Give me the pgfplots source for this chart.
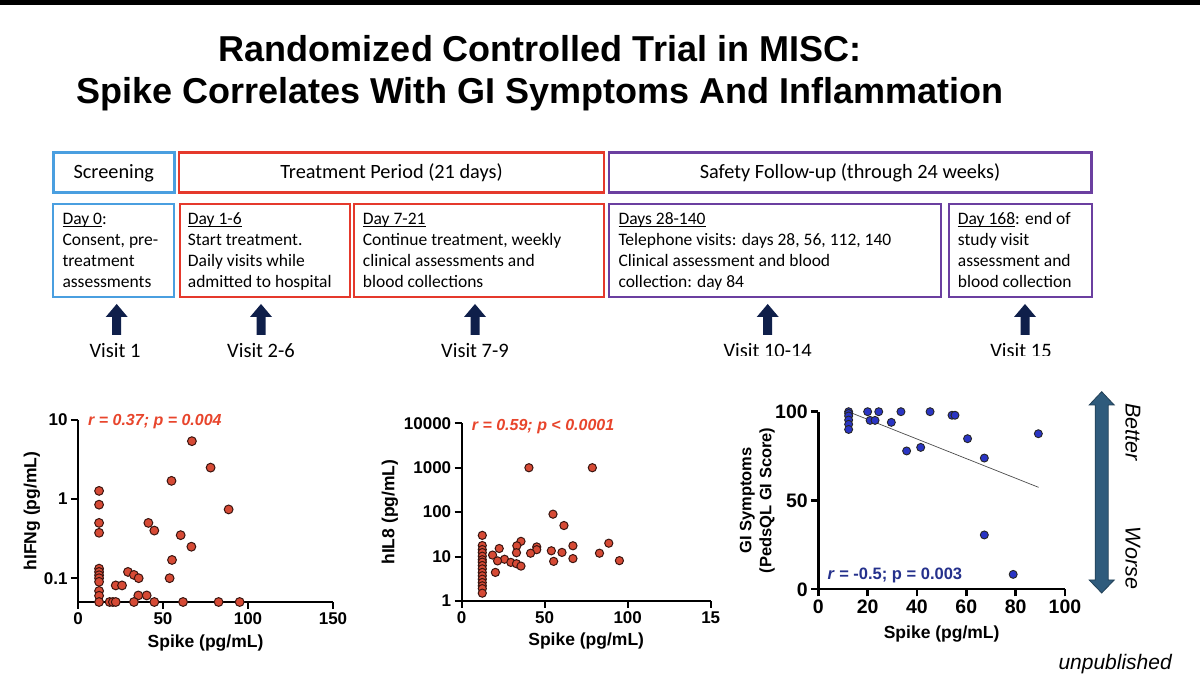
\documentclass[border=0pt]{standalone}
\usepackage{fontspec}
\setmainfont{Liberation Sans}
\newfontfamily\calib{Carlito}
\usepackage{pgfplots}
\usepackage{pgfplotstable}
\pgfplotsset{compat=1.18}

\definecolor{boxblue}{HTML}{4A9FE0}
\definecolor{boxred}{HTML}{E5392C}
\definecolor{boxpurple}{HTML}{6B3FA0}
\definecolor{navyarrow}{HTML}{0F1F4A}
\definecolor{dotred}{HTML}{D64A35}
\definecolor{dotedge}{HTML}{3A1510}
\definecolor{dotblue}{HTML}{2A35C4}
\definecolor{annred}{HTML}{E8452C}
\definecolor{annnavy}{HTML}{25318C}
\definecolor{steel}{HTML}{2F5B7C}

\newcommand\fs[1]{\fontsize{#1}{#1}\selectfont}
\newcommand\ul[1]{\setbox0\hbox{#1}\rlap{\rule[-2.2pt]{\wd0}{1pt}}\box0}

% hIFNg vs spike
\pgfplotstableread{
x y
67 5.4
78 2.5
55 1.7
88.6 0.74
12.4 1.27
12.4 0.85
12.4 0.50
12.4 0.375
41.4 0.50
44.9 0.40
60.4 0.35
66.7 0.25
55.3 0.17
53.9 0.10
29.4 0.12
32.9 0.11
35.7 0.10
22.2 0.081
25.9 0.081
35.5 0.0605
40.4 0.0605
12.4 0.132
12.4 0.12
12.4 0.109
12.4 0.10
12.4 0.09
12.4 0.069
12.4 0.060
12.4 0.05
18.6 0.05
20.5 0.05
22.2 0.05
32.9 0.05
44.9 0.05
61.8 0.05
82.7 0.05
95.1 0.05
}\ifng

% hIL8 vs spike
\pgfplotstableread{
x y
40.5 1000
78.7 1000
55 90
61.6 50
12.4 30
35.7 22
33.2 17.5
22.6 15.2
88.6 20
67 17.5
45.2 16.5
45.2 14.3
54 13.5
60.4 12.4
41.5 11.9
33 12.2
83 11.9
18.6 10.8
25.8 8.7
21.6 8.0
29.6 7.4
33 6.9
35.7 6.1
55.4 7.8
67 9.0
95 8.1
20.3 4.4
12.4 17.7
12.4 14.4
12.4 12.3
12.4 10.2
12.4 8.5
12.4 7.5
12.4 6.3
12.4 5.3
12.4 4.4
12.4 3.7
12.4 3.1
12.4 2.6
12.4 2.2
12.4 1.9
12.4 1.5
}\ileight

% GI score vs spike
\pgfplotstableread{
x y
12.3 100
12.3 99
12.3 97.6
12.3 95.3
12.3 92.9
12.3 90
20 100
24.5 100
21 95.1
23 95.1
29.6 94
33.5 100
45.3 100
54.2 98
55.4 98
60.5 84.8
89.2 87.6
35.8 77.9
41.5 79.9
67.3 73.9
67.3 30.6
79 8.4
}\gisc

\pgfplotsset{
  prism/.style={
    scale only axis,
    axis x line*=bottom, axis y line*=left,
    axis line style={line width=2pt},
    tick style={line width=2pt, black},
    major tick length=7pt,
    tick align=outside,
    xminorticks=false, yminorticks=false,
    /pgf/number format/assume math mode=true,
    tick label style={font=\bfseries\fs{17}},
    label style={font=\bfseries\fs{17.5}},
    clip=false,
  },
  reddots/.style={only marks, mark=*, mark size=4.4pt,
    mark options={fill=dotred, draw=dotedge, line width=1pt}},
}

\newcommand\uparr[1]{\fill[navyarrow] (#1-4.5,335) -- (#1-4.5,317) -- (#1-11,317)
  -- (#1,304) -- (#1+11,317) -- (#1+4.5,317) -- (#1+4.5,335) -- cycle;}
\newcommand\rowtext[5]{%
  \node[anchor=base west] at (#1,225) {#2};
  \node[anchor=base west] at (#1,245.7) {#3};
  \node[anchor=base west] at (#1,266.4) {#4};
  \node[anchor=base west] at (#1,287.1) {#5};}

\begin{document}
\begin{tikzpicture}
\path[use as bounding box, fill=white] (0,0) rectangle (1200pt,687pt);
\begin{scope}[x=1pt, y=-1pt, shift={(0pt,687pt)}, every node/.style={inner sep=0pt}]
  \fill[black] (0,0) rectangle (1200,5);
  % title
  \node[anchor=base] at (540,61.7) {\bfseries\fs{36}Randomized Controlled Trial in MISC:};
  \node[anchor=base] at (540,104) {\bfseries\fs{36}Spike Correlates With GI Symptoms And Inflammation};
  % phase boxes
  \draw[boxblue, line width=2.8pt] (53.3,152.3) rectangle (174.3,192.3);
  \draw[boxred, line width=2.8pt] (179,152.3) rectangle (604,192.3);
  \draw[boxpurple, line width=2.8pt] (609,152.3) rectangle (1091.7,192.3);
  \node[anchor=base] at (113.8,179) {\calib\fs{20.3}Screening};
  \node[anchor=base] at (391.5,179) {\calib\fs{20.3}Treatment Period (21 days)};
  \node[anchor=base] at (850,179) {\calib\fs{20.3}Safety Follow-up (through 24 weeks)};
  % day boxes
  \draw[boxblue, line width=2.2pt] (53.3,204) rectangle (174.3,297.3);
  \draw[boxred, line width=2.2pt] (180,204) rectangle (350,297.3);
  \draw[boxred, line width=2.2pt] (354,204) rectangle (604,297.3);
  \draw[boxpurple, line width=2.2pt] (609,204) rectangle (941,297.3);
  \draw[boxpurple, line width=2.2pt] (949,204) rectangle (1091.7,297.3);
  \begin{scope}[every node/.append style={font=\calib\fs{17.5}}]
    \rowtext{62.3}{\ul{Day 0}:}{Consent, pre-}{treatment}{assessments}
    \rowtext{187.7}{\ul{Day 1-6}}{Start treatment.}{Daily visits while}{admitted to hospital}
    \rowtext{362.7}{\ul{Day 7-21}}{Continue treatment, weekly}{clinical assessments and}{blood collections}
    \rowtext{618.3}{\ul{Days 28-140}}{Telephone visits: days 28, 56, 112, 140}{Clinical assessment and blood}{collection: day 84}
    \rowtext{957.7}{\ul{Day 168}: end of}{study visit}{assessment and}{blood collection}
  \end{scope}
  % visit arrows
  \uparr{116.7}
  \uparr{261}
  \uparr{475}
  \uparr{767.7}
  \uparr{1025}
  \node[anchor=base] at (115,358) {\calib\fs{20.5}Visit 1};
  \node[anchor=base] at (261,358) {\calib\fs{20.5}Visit 2-6};
  \node[anchor=base] at (475,358) {\calib\fs{20.5}Visit 7-9};
  \node[anchor=base] at (767.7,358) {\calib\fs{20.5}Visit 10-14};
  \node[anchor=base] at (1021,358) {\calib\fs{20.5}Visit 15};
  \fill[white] (700,356.5) rectangle (1100,372);
  % correlation annotations
  \node[anchor=base west, text=annred] at (88,425.5) {\bfseries\itshape\fs{16}r = 0.37; p = 0.004};
  \node[anchor=base west, text=annred] at (471.7,431) {\bfseries\itshape\fs{16}r = 0.59; p < 0.0001};
  \node[anchor=base west, text=annnavy] at (827.3,580) {\bfseries\fs{16.5}\textit{r} = -0.5; p = 0.003};
  % better / worse arrow
  \filldraw[fill=steel, draw=steel!70!black, line width=0.8pt]
    (1101.7,391.7) -- (1114.2,405) -- (1108.2,405) -- (1108.2,580) -- (1114.2,580)
    -- (1101.7,593) -- (1089.2,580) -- (1095.2,580) -- (1095.2,405) -- (1089.2,405) -- cycle;
  \node[rotate=-90] at (1133,432) {\itshape\fs{21.5}Better};
  \node[rotate=-90] at (1133,558) {\itshape\fs{21.5}Worse};
  \node[anchor=base east] at (1172,670) {\itshape\fs{21}unpublished};
\end{scope}

\begin{axis}[prism, at={(78pt,85pt)}, anchor=south west,
  width=255pt, height=182pt,
  xmin=0, xmax=150, ymode=log, ymin=0.05, ymax=10,
  xtick={0,50,100,150}, ytick={0.1,1,10}, yticklabels={0.1,1,10},
  xlabel={Spike (pg/mL)}, ylabel={hIFNg (pg/mL)},
  xlabel style={at={([yshift=-46pt]axis description cs:0.5,0)}, anchor=base},
  ylabel style={at={([xshift=-46pt]axis description cs:0,0.5)}, anchor=center},
]
\addplot[reddots] table {\ifng};
\end{axis}

\begin{axis}[prism, at={(461.7pt,86pt)}, anchor=south west,
  width=249pt, height=177.7pt,
  xmin=0, xmax=150, ymode=log, ymin=1, ymax=10000,
  xtick={0,50,100,150}, xticklabels={0,50,100,15},
  ytick={1,10,100,1000,10000}, yticklabels={1,10,100,1000,10000},
  xlabel={Spike (pg/mL)}, ylabel={hIL8 (pg/mL)},
  xlabel style={at={([yshift=-45pt]axis description cs:0.5,0)}, anchor=base},
  ylabel style={at={([xshift=-71.7pt]axis description cs:0,0.5)}, anchor=center},
]
\addplot[reddots, mark size=4.1pt] table {\ileight};
\end{axis}

\begin{axis}[prism, at={(818.3pt,97.7pt)}, anchor=south west,
  width=246.7pt, height=177.6pt,
  axis line style={line width=2.4pt}, tick style={line width=2.4pt},
  tick label style={font=\bfseries\fs{19.5}},
  xmin=0, xmax=100, ymin=0, ymax=100,
  xtick={0,20,40,60,80,100}, ytick={0,50,100},
  xlabel={Spike (pg/mL)}, ylabel={GI Symptoms\\(PedsQL GI Score)},
  xlabel style={at={([yshift=-49pt]axis description cs:0.5,0)}, anchor=base},
  ylabel style={at={([xshift=-61pt]axis description cs:0,0.5)}, anchor=center,
    align=center, font=\bfseries\fontsize{16.5}{20}\selectfont},
]
\addplot[black!70, line width=0.7pt] coordinates {(13.8,99.1) (89.3,57.4)};
\addplot[only marks, mark=*, mark size=4pt,
  mark options={fill=dotblue, draw=black!85, line width=0.9pt}] table {\gisc};
\end{axis}
\end{tikzpicture}
\end{document}
